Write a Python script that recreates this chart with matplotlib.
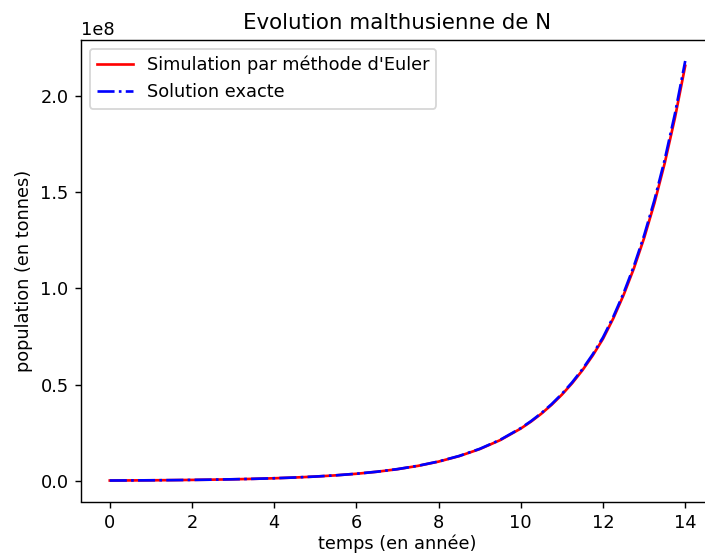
import matplotlib
matplotlib.use('Agg')
import matplotlib.pyplot as plt

# temps (années)
t = [0.0, 0.5, 1.0, 1.5, 2.0, 2.5, 3.0, 3.5, 4.0, 4.5, 5.0, 5.5, 6.0, 6.5, 7.0,
     7.5, 8.0, 8.5, 9.0, 9.5, 10.0, 10.25, 10.5, 10.75, 11.0, 11.25, 11.5, 11.75,
     12.0, 12.25, 12.5, 12.75, 13.0, 13.25, 13.5, 13.75, 14.0]

# population (en 1e8 tonnes)
N_euler = [0.00185, 0.002374, 0.003048, 0.003911, 0.005012, 0.006433, 0.008259,
           0.0106, 0.0136, 0.01747, 0.02241, 0.02876, 0.03692, 0.04739, 0.06075,
           0.07798, 0.1001, 0.1285, 0.165, 0.2117, 0.2718, 0.3079, 0.3488, 0.3951,
           0.4477, 0.5072, 0.5746, 0.651, 0.7377, 0.8435, 0.9646, 1.1027, 1.2608,
           1.4415, 1.6485, 1.8849, 2.155]
N_exact = [0.00185, 0.002375, 0.00305, 0.003916, 0.00502, 0.006446, 0.00828,
           0.01063, 0.01365, 0.01753, 0.0225, 0.02889, 0.0371, 0.04764, 0.0611,
           0.07846, 0.1008, 0.1294, 0.1662, 0.2134, 0.274, 0.3105, 0.3518, 0.3986,
           0.4518, 0.5119, 0.5801, 0.6573, 0.745, 0.852, 0.9745, 1.1144, 1.2744,
           1.4574, 1.667, 1.9064, 2.18]

DPI = 128
W, H = 705, 556
fig = plt.figure(figsize=(W / DPI, H / DPI), dpi=DPI)
# the original screenshot cuts off the right spine
ax = fig.add_axes([81 / W, 54.5 / H, 633 / W, 461.5 / H])

ax.plot(t, [v * 1e8 for v in N_euler], 'r-', label="Simulation par méthode d'Euler")
ax.plot(t, [v * 1e8 for v in N_exact], 'b-.', label='Solution exacte')
ax.set_title('Evolution malthusienne de N')
ax.set_xlabel('temps (en année)', labelpad=1.5)
ax.set_ylabel('population (en tonnes)')
ax.legend(loc='upper left')

fig.savefig('out.png', dpi=DPI)
